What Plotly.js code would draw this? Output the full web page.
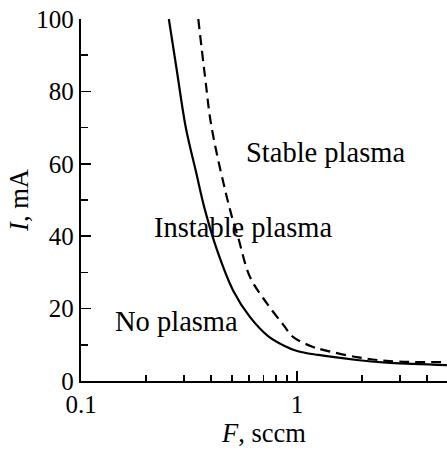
<!DOCTYPE html>
<html>
<head>
<meta charset="utf-8">
<script src="https://cdn.plot.ly/plotly-3.0.1.min.js"></script>
<style>html,body{margin:0;padding:0;background:#fff;}#chart{width:447px;height:450px;}</style>
</head>
<body>
<div id="chart"></div>
<script>
// Solid boundary: no plasma / instable plasma
const solidF = [0.255, 0.277, 0.306, 0.34, 0.375, 0.426, 0.505, 0.605, 0.734, 0.861, 1.0, 1.253, 1.89, 2.69, 4.94];
const solidI = [100, 86.2, 69.8, 58, 47.2, 36.2, 25.1, 17.7, 12.4, 9.9, 8.3, 7.2, 5.8, 5.0, 4.4];
// Dashed boundary: instable / stable plasma
const dashedF = [0.349, 0.375, 0.403, 0.49, 0.533, 0.605, 0.724, 0.864, 0.957, 1.186, 1.32, 1.89, 2.69, 4.94];
const dashedI = [100, 84.1, 69.8, 47.2, 39.8, 28.8, 21.5, 15.5, 12.2, 9.4, 8.6, 6.6, 5.5, 5.2];
// Axis ticks
const xTickVals = [0.1, 1];
const xTickText = ['0.1', '1'];
const xMinorVals = [0.2, 0.3, 0.4, 0.5, 0.6, 0.7, 0.8, 0.9, 2, 3, 4];
const yTickVals = [0, 20, 40, 60, 80, 100];
// Region labels
const regionLabels = ['Stable plasma', 'Instable plasma', 'No plasma'];

const FONT = 'Liberation Serif';

const traces = [
  {x: solidF, y: solidI, mode: 'lines', type: 'scatter',
   line: {color: '#000', width: 2.2, shape: 'spline', smoothing: 1}, hoverinfo: 'skip'},
  {x: dashedF, y: dashedI, mode: 'lines', type: 'scatter',
   line: {color: '#000', width: 2.2, dash: '10px,6px', shape: 'spline', smoothing: 1}, hoverinfo: 'skip'}
];

const labelPos = [
  {x: 0.669, y: 0.63},
  {x: 0.443, y: 0.425},
  {x: 0.261, y: 0.165}
];

const layout = {
  width: 447, height: 450,
  margin: {l: 81, r: 0, t: 19, b: 69},
  paper_bgcolor: '#fff', plot_bgcolor: '#fff',
  showlegend: false,
  font: {family: FONT, color: '#000', size: 25},
  xaxis: {
    type: 'log', range: [-1, 0.694],
    tickmode: 'array', tickvals: xTickVals, ticktext: xTickText,
    ticks: 'inside', ticklen: 10, tickwidth: 1.5, tickcolor: '#000',
    minor: {tickmode: 'array', tickvals: xMinorVals, ticks: 'inside', ticklen: 6, tickwidth: 1.5, tickcolor: '#000'},
    showline: true, linewidth: 2.2, linecolor: '#000', mirror: false,
    showgrid: false, zeroline: false,
    tickfont: {family: FONT, size: 25, color: '#000'},
    title: {text: '<i>F</i>, sccm', font: {family: FONT, size: 26.5, color: '#000'}, standoff: 6},
    automargin: false
  },
  yaxis: {
    range: [0, 100],
    tickmode: 'array', tickvals: yTickVals,
    ticks: 'inside', ticklen: 10, tickwidth: 1.5, tickcolor: '#000',
    minor: {dtick: 10, ticks: 'inside', ticklen: 7, tickwidth: 1.5, tickcolor: '#000'},
    showline: true, linewidth: 2.2, linecolor: '#000', mirror: false,
    showgrid: false, zeroline: false,
    tickfont: {family: FONT, size: 25, color: '#000'},
    title: {text: '<i>I</i>, mA', font: {family: FONT, size: 26.5, color: '#000'}, standoff: 0},
    automargin: false
  },
  annotations: regionLabels.map((t, i) => ({
    text: t, xref: 'paper', yref: 'paper', x: labelPos[i].x, y: labelPos[i].y,
    xanchor: 'center', yanchor: 'middle', showarrow: false,
    font: {family: FONT, size: 28.5, color: '#000'}
  }))
};

Plotly.newPlot('chart', traces, layout, {staticPlot: true, displayModeBar: false});
</script>
</body>
</html>
